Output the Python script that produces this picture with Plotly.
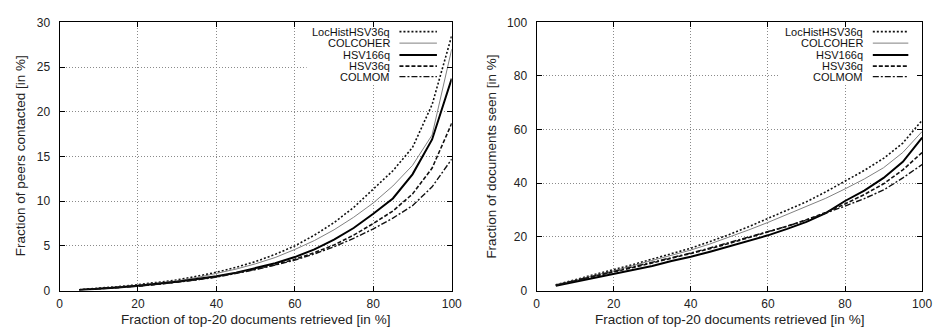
import plotly.graph_objects as go

x_vals = [5, 10, 15, 20, 25, 30, 35, 40, 45, 50, 55, 60, 65, 70, 75, 80, 85, 90, 95, 100]

series_names = ["LocHistHSV36q", "COLCOHER", "HSV166q", "HSV36q", "COLMOM"]

# Left panel: fraction of peers contacted [in %]
peers_lochist = [0.1, 0.25, 0.45, 0.65, 0.9, 1.2, 1.6, 2.05, 2.6, 3.25, 4.05, 5.0, 6.2, 7.6, 9.3, 11.3, 13.4, 16.0, 20.8, 28.5]
peers_colcoher = [0.1, 0.25, 0.42, 0.6, 0.85, 1.1, 1.45, 1.9, 2.4, 3.0, 3.7, 4.6, 5.6, 6.8, 8.2, 9.8, 11.7, 14.0, 17.4, 27.0]
peers_hsv166 = [0.08, 0.2, 0.35, 0.55, 0.75, 1.0, 1.3, 1.6, 2.0, 2.5, 3.05, 3.75, 4.6, 5.7, 7.0, 8.6, 10.3, 13.0, 16.9, 23.7]
peers_hsv36 = [0.08, 0.2, 0.35, 0.5, 0.72, 0.95, 1.22, 1.55, 1.95, 2.4, 2.9, 3.5, 4.25, 5.1, 6.2, 7.5, 8.9, 10.8, 13.7, 18.7]
peers_colmom = [0.08, 0.2, 0.33, 0.5, 0.7, 0.92, 1.2, 1.5, 1.9, 2.35, 2.85, 3.4, 4.1, 4.9, 5.85, 6.9, 8.1, 9.5, 11.6, 14.7]

# Right panel: fraction of documents seen [in %]
docs_lochist = [2.2, 4.0, 5.9, 7.8, 9.7, 11.7, 13.7, 15.8, 18.3, 20.9, 23.8, 26.8, 29.9, 33.1, 36.8, 40.8, 44.8, 49.3, 55.0, 63.5]
docs_colcoher = [2.1, 3.8, 5.6, 7.4, 9.3, 11.2, 13.1, 15.1, 17.4, 19.9, 22.6, 25.4, 28.3, 31.3, 34.4, 37.9, 41.6, 45.8, 51.5, 59.3]
docs_hsv166 = [1.8, 3.3, 4.8, 6.2, 7.7, 9.2, 11.0, 12.6, 14.5, 16.5, 18.5, 20.6, 23.0, 25.6, 28.9, 33.4, 37.3, 42.0, 48.0, 57.0]
docs_hsv36 = [2.0, 3.6, 5.2, 6.9, 8.6, 10.3, 12.0, 13.7, 15.6, 17.6, 19.7, 21.8, 24.0, 26.4, 29.1, 32.3, 35.8, 39.8, 45.0, 51.5]
docs_colmom = [2.0, 3.7, 5.4, 7.1, 8.8, 10.5, 12.3, 14.0, 15.9, 17.9, 19.9, 21.9, 24.0, 26.3, 28.8, 31.5, 34.3, 37.5, 42.0, 47.0]

left_series = [peers_lochist, peers_colcoher, peers_hsv166, peers_hsv36, peers_colmom]
right_series = [docs_lochist, docs_colcoher, docs_hsv166, docs_hsv36, docs_colmom]

styles = [
    dict(color="#111111", width=1.6, dash="2px,2px"),
    dict(color="#808080", width=1.0, dash="solid"),
    dict(color="#000000", width=2.0, dash="solid"),
    dict(color="#111111", width=1.6, dash="4px,2px"),
    dict(color="#111111", width=1.4, dash="6px,2px,2px,2px"),
]

W, H = 941, 334
L_x0, L_x1 = 57.3, 455.0
R_x0, R_x1 = 541.0, 932.0
Y_top, Y_bot = 16.0, 296.0

fig = go.Figure()
for name, ys, st in zip(series_names, left_series, styles):
    fig.add_trace(go.Scatter(x=x_vals, y=ys, mode="lines", name=name, line=st,
                             xaxis="x", yaxis="y", showlegend=False))
for name, ys, st in zip(series_names, right_series, styles):
    fig.add_trace(go.Scatter(x=x_vals, y=ys, mode="lines", name=name, line=st,
                             xaxis="x2", yaxis="y2", showlegend=False))

font_fam = "Liberation Sans, Arial, Helvetica, sans-serif"
axis_common = dict(
    showline=True, linecolor="#000000", linewidth=1, mirror="ticks",
    ticks="inside", ticklen=5, tickcolor="#000000", tickwidth=1,
    showgrid=True, gridcolor="#8a8a8a", gridwidth=1, griddash="1px,2px",
    zeroline=False, tickfont=dict(family=font_fam, size=12, color="#222222"),
)

ydom = [1 - Y_bot / H, 1 - Y_top / H]
fig.update_layout(
    width=W, height=H,
    margin=dict(l=0, r=0, t=0, b=0),
    paper_bgcolor="white", plot_bgcolor="white",
    font=dict(family=font_fam, color="#222222"),
    xaxis=dict(domain=[L_x0 / W, L_x1 / W], range=[0, 100], tickvals=[0, 20, 40, 60, 80, 100],
               anchor="y", ticklabelstandoff=2, **axis_common),
    yaxis=dict(domain=ydom, range=[0, 30], tickvals=[0, 5, 10, 15, 20, 25, 30],
               anchor="x", ticklabelstandoff=6, **axis_common),
    xaxis2=dict(domain=[R_x0 / W, R_x1 / W], range=[0, 100], tickvals=[0, 20, 40, 60, 80, 100],
                anchor="y2", ticklabelstandoff=2, **axis_common),
    yaxis2=dict(domain=ydom, range=[0, 100], tickvals=[0, 20, 40, 60, 80, 100],
                anchor="x2", ticklabelstandoff=6, **axis_common),
)

shapes = []
annotations = []

# white legend boxes covering gridlines (between gridlines and traces)
shapes.append(dict(type="rect", xref="x", yref="y", x0=63, x1=100, y0=23.0, y1=30,
                   fillcolor="white", line=dict(width=0), layer="between"))
shapes.append(dict(type="rect", xref="x2", yref="y2", x0=63, x1=100, y0=77.0, y1=100,
                   fillcolor="white", line=dict(width=0), layer="between"))

row_y = [25.7, 37.7, 50.0, 61.7, 72.7]
legends = [
    dict(text_right=393, s0=402, s1=440),
    dict(text_right=873, s0=882, s1=918),
]
for lg in legends:
    for name, st, yy in zip(series_names, styles, row_y):
        annotations.append(dict(
            x=lg["text_right"] / W, y=1 - yy / H, xref="paper", yref="paper",
            text=name, showarrow=False, xanchor="right", yanchor="middle",
            borderpad=0,
            font=dict(family=font_fam, size=11, color="#111111")))
        shapes.append(dict(type="line", xref="paper", yref="paper",
                           x0=lg["s0"] / W, x1=lg["s1"] / W, y0=1 - yy / H, y1=1 - yy / H,
                           line=st, layer="above"))

# axis titles
x_title = "Fraction of top-20 documents retrieved [in %]"
title_font = dict(family=font_fam, size=13.5, color="#222222")
annotations.append(dict(x=(L_x0 + L_x1) / 2 / W, y=1 - 326 / H, xref="paper", yref="paper",
                        text=x_title, showarrow=False, xanchor="center", yanchor="middle",
                        borderpad=0, font=title_font))
annotations.append(dict(x=(R_x0 + R_x1) / 2 / W, y=1 - 326 / H, xref="paper", yref="paper",
                        text=x_title, showarrow=False, xanchor="center", yanchor="middle",
                        borderpad=0, font=title_font))
annotations.append(dict(x=18 / W, y=1 - 155 / H, xref="paper", yref="paper",
                        text="Fraction of peers contacted [in %]", showarrow=False, textangle=-90,
                        xanchor="center", yanchor="middle", font=title_font))
annotations.append(dict(x=495 / W, y=1 - 156 / H, xref="paper", yref="paper",
                        text="Fraction of documents seen [in %]", showarrow=False, textangle=-90,
                        xanchor="center", yanchor="middle", font=title_font))

fig.update_layout(shapes=shapes, annotations=annotations)
fig.write_html("out.html")
